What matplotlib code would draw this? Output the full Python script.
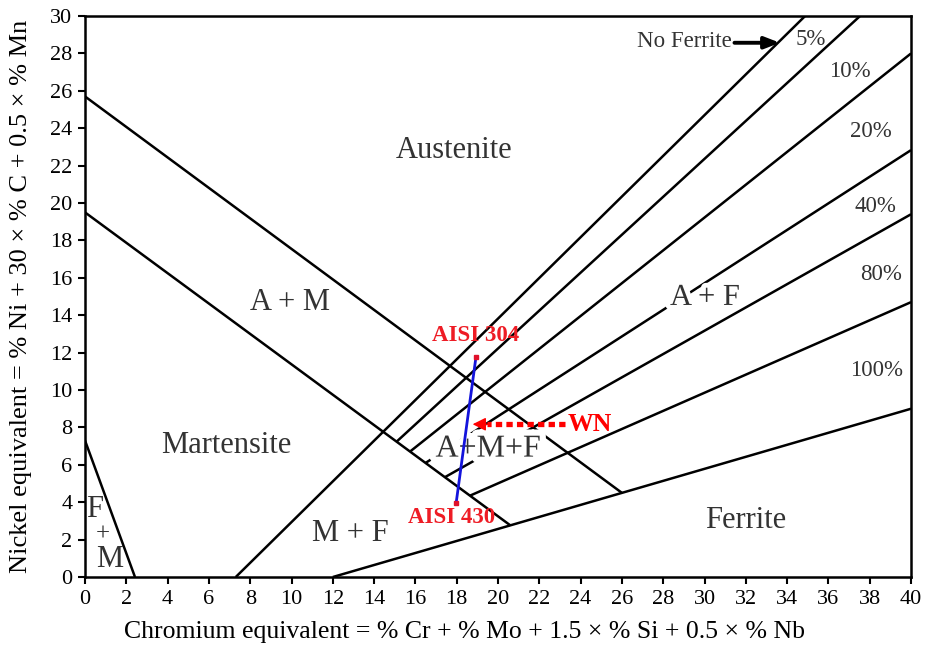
import matplotlib
matplotlib.use("Agg")
import matplotlib.pyplot as plt
import matplotlib.patheffects as pe

plt.rcParams['font.family'] = ['Liberation Serif', 'DejaVu Serif']

# Phase boundaries (Cr_eq, Ni_eq) endpoints
upper_boundary = ([0.0, 26.0], [25.7, 4.5])      # Austenite / A+M
lower_boundary = ([0.0, 20.6], [19.5, 2.76])     # A+M / Martensite
ferrite_boundary = ([12.0, 40.0], [0.0, 9.0])    # 100 % ferrite line
fm_boundary = ([0.0, 2.42], [7.3, 0.0])          # F+M corner
no_ferrite = ([7.3, 34.87], [0.0, 30.0])

# Iso-ferrite lines: start on the lower boundary, end on the frame
ferrite_pct = ['5%', '10%', '20%', '40%', '80%']
ferrite_x0 = [15.09, 15.74, 16.49, 17.43, 18.64]
ferrite_y0 = [7.24, 6.71, 6.10, 5.34, 4.35]
ferrite_x1 = [37.53, 40.0, 40.0, 40.0, 40.0]
ferrite_y1 = [30.0, 28.0, 22.83, 19.4, 14.7]

# Percentage label positions
pct_labels = ['5%', '10%', '20%', '40%', '80%', '100%']
pct_x = [35.16, 37.05, 38.06, 38.30, 38.55, 38.33]
pct_y = [28.77, 27.03, 23.85, 19.84, 16.20, 11.07]

# Region labels
regions = ['Austenite', 'A + M', 'Martensite', 'A + F', 'M + F', 'Ferrite']
region_x = [17.87, 9.93, 6.83, 30.02, 12.87, 32.0]
region_y = [22.83, 14.7, 7.06, 14.95, 2.35, 3.0]

# Steel compositions
aisi_names = ['AISI 304', 'AISI 430']
aisi_cr = [18.93, 17.97]
aisi_ni = [11.75, 3.94]

# Weld nugget arrow
wn_x = [23.24, 18.77]
wn_y = 8.17

xticks = list(range(0, 41, 2))
yticks = list(range(0, 31, 2))

fig = plt.figure(figsize=(9.25, 6.49), dpi=100)
ax = fig.add_axes([0.0919, 0.1109, 0.893, 0.8644])
ax.set_xlim(0, 40)
ax.set_ylim(0, 30)

line_kw = dict(color='black', lw=1.8, solid_capstyle='butt', zorder=2)
for xs, ys in (upper_boundary, lower_boundary, ferrite_boundary, fm_boundary, no_ferrite):
    ax.plot(xs, ys, **line_kw)
for x0, y0, x1, y1 in zip(ferrite_x0, ferrite_y0, ferrite_x1, ferrite_y1):
    ax.plot([x0, x1], [y0, y1], **line_kw)

gray = '#333333'
for lab, x, y in zip(pct_labels, pct_x, pct_y):
    ax.text(x, y, lab, fontsize=16.5, color=gray, ha='center', va='center', zorder=3)

ax.text(31.3, 28.65, 'No Ferrite', fontsize=16.5, color=gray, ha='right', va='center', zorder=3)
ax.annotate('', xy=(33.65, 28.57), xytext=(31.45, 28.57),
            arrowprops=dict(arrowstyle='-|>,head_length=0.9,head_width=0.35',
                            color='black', lw=2.8, shrinkA=0, shrinkB=0), zorder=3)

white_halo = [pe.withStroke(linewidth=7, foreground='white')]
for lab, x, y in zip(regions, region_x, region_y):
    t = ax.text(x, y, lab, fontsize=22, color=gray, ha='center', va='center', zorder=3)
    if lab == 'A + F':
        t.set_path_effects(white_halo)

ax.text(19.53, 6.84, 'A+M+F', fontsize=23, color=gray, ha='center', va='center', zorder=3,
        path_effects=[pe.withStroke(linewidth=9, foreground='white')])

# F + M corner label stacked vertically
ax.text(0.45, 3.6, 'F', fontsize=22, color=gray, ha='center', va='center', zorder=3)
ax.text(0.85, 2.3, '+', fontsize=18, color=gray, ha='center', va='center', zorder=3)
ax.text(1.2, 0.92, 'M', fontsize=22, color=gray, ha='center', va='center', zorder=3)

# Composition path between the two steels
ax.plot(aisi_cr, aisi_ni, color='#1414dc', lw=2.0, zorder=4)
ax.plot(aisi_cr, aisi_ni, 's', color='#e0102a', ms=2.5, zorder=5)
ax.text(18.91, 12.9, aisi_names[0], fontsize=16.5, fontweight='bold', color='#ee1c25',
        ha='center', va='center', zorder=5)
ax.text(17.76, 3.18, aisi_names[1], fontsize=16.5, fontweight='bold', color='#ee1c25',
        ha='center', va='center', zorder=5)

# WN dotted arrow
ax.plot([wn_x[0], wn_x[1] + 0.7], [wn_y, wn_y], color='#ff0000', lw=3.8,
        linestyle=(0, (1.2, 0.8)), dash_capstyle='butt', zorder=5)
ax.annotate('', xy=(wn_x[1], wn_y), xytext=(wn_x[1] + 0.75, wn_y),
            arrowprops=dict(arrowstyle='-|>,head_length=0.8,head_width=0.4',
                            color='#ff0000', lw=1.0, shrinkA=0, shrinkB=0), zorder=5)
ax.text(23.39, 8.16, 'WN', fontsize=18.5, fontweight='bold', color='#ff0000',
        ha='left', va='center', zorder=5)

ax.set_xticks(xticks)
ax.set_yticks(yticks)
ax.tick_params(direction='out', length=5, width=1.5, labelsize=16, pad=4)
for s in ax.spines.values():
    s.set_linewidth(1.8)

ax.set_xlabel('Chromium equivalent = % Cr + % Mo + 1.5 × % Si + 0.5 × % Nb', fontsize=18.5)
ax.set_ylabel('Nickel equivalent = % Ni + 30 × % C + 0.5 × % Mn', fontsize=19)
ax.xaxis.set_label_coords(0.46, -0.078)
ax.yaxis.set_label_coords(-0.064, 0.5)

fig.savefig('out.png', dpi=100)
